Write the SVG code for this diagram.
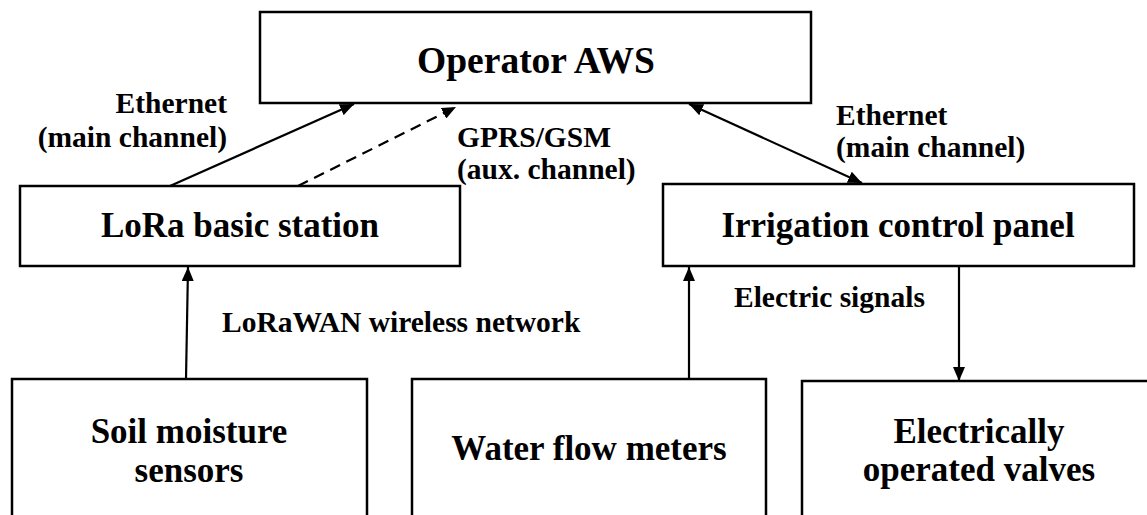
<svg xmlns="http://www.w3.org/2000/svg" width="1147" height="515" viewBox="0 0 1147 515">
<style>
.box{fill:#fff;stroke:#000;stroke-width:2.5}
.t{font-family:"Liberation Serif","Times New Roman",serif;font-weight:bold;fill:#000;text-anchor:middle;font-size:35px}
.big{font-size:37.5px}
.lbl{font-family:"Liberation Serif","Times New Roman",serif;font-weight:bold;fill:#000;font-size:29.5px}
.ln{stroke:#000;stroke-width:2.2;fill:none}
</style>
<defs>
<marker id="ah" viewBox="0 0 14 12" refX="14" refY="6" markerWidth="14" markerHeight="12" markerUnits="userSpaceOnUse" orient="auto">
<path d="M0,0 L14,6 L0,12 z" fill="#000"/>
</marker>
<marker id="ahs" viewBox="0 0 14 12" refX="0" refY="6" markerWidth="14" markerHeight="12" markerUnits="userSpaceOnUse" orient="auto">
<path d="M14,0 L0,6 L14,12 z" fill="#000"/>
</marker>
</defs>
<g id="connectors">
<line class="ln" x1="170" y1="186" x2="354" y2="104" marker-end="url(#ah)"/>
<line class="ln" x1="298" y1="186" x2="456" y2="107" stroke-dasharray="11,7" marker-end="url(#ah)"/>
<line class="ln" x1="689" y1="104" x2="862" y2="183" marker-start="url(#ahs)" marker-end="url(#ah)"/>
<line class="ln" x1="186" y1="379" x2="188" y2="267" marker-end="url(#ah)"/>
<line class="ln" x1="689" y1="379" x2="689" y2="267" marker-end="url(#ah)"/>
<line class="ln" x1="959" y1="266" x2="959" y2="381" marker-end="url(#ah)"/>
<text class="lbl" x="227" y="113" text-anchor="end">Ethernet</text>
<text class="lbl" x="227" y="147" text-anchor="end">(main channel)</text>
<text class="lbl" x="457" y="147">GPRS/GSM</text>
<text class="lbl" x="457" y="179">(aux. channel)</text>
<text class="lbl" x="836" y="125">Ethernet</text>
<text class="lbl" x="836" y="157">(main channel)</text>
<text class="lbl" x="222" y="332">LoRaWAN wireless network</text>
<text class="lbl" x="734" y="307">Electric signals</text>
</g>
<g id="aws">
<rect class="box" x="260" y="12" width="551" height="91"/>
<text class="t big" x="536" y="73">Operator AWS</text>
</g>
<g id="lora">
<rect class="box" x="20" y="186" width="440" height="80"/>
<text class="t" x="240" y="237">LoRa basic station</text>
</g>
<g id="panel">
<rect class="box" x="663" y="184" width="471" height="82"/>
<text class="t" x="898" y="237">Irrigation control panel</text>
</g>
<g id="soil">
<rect class="box" x="12" y="379" width="355" height="150"/>
<text class="t" x="189" y="443">Soil moisture</text>
<text class="t" x="189" y="482">sensors</text>
</g>
<g id="water">
<rect class="box" x="412" y="379" width="354" height="150"/>
<text class="t" x="589" y="460">Water flow meters</text>
</g>
<g id="valves">
<rect class="box" x="802" y="381" width="360" height="150"/>
<text class="t" x="979" y="443">Electrically</text>
<text class="t" x="979" y="481">operated valves</text>
</g>
</svg>
